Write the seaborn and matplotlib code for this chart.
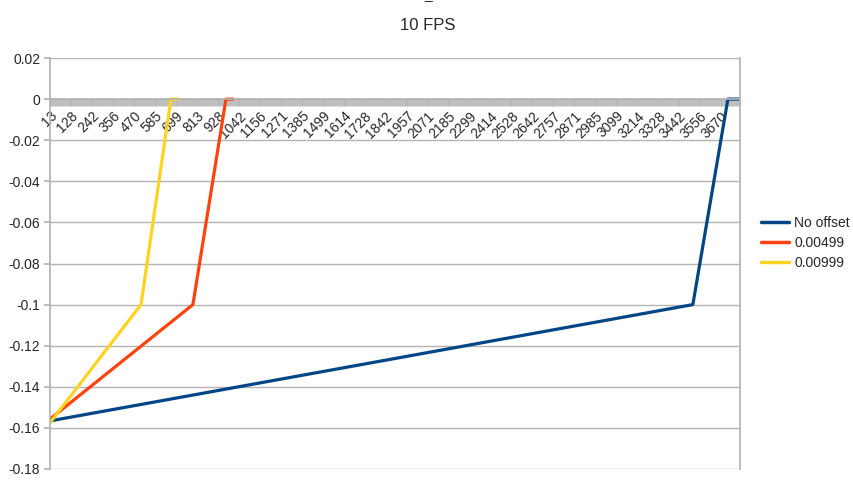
import matplotlib
matplotlib.use("Agg")
import numpy as np
import pandas as pd
import seaborn as sns
import matplotlib.pyplot as plt

sns.set_theme(style="whitegrid")
plt.rcParams['font.family'] = ['Liberation Sans', 'DejaVu Sans']

# category labels shown on the x axis
tick_labels = [13, 128, 242, 356, 470, 585, 699, 813, 928, 1042, 1156, 1271,
               1385, 1499, 1614, 1728, 1842, 1957, 2071, 2185, 2299, 2414,
               2528, 2642, 2757, 2871, 2985, 3099, 3214, 3328, 3442, 3556, 3670]

series_names = ["No offset", "0.00499", "0.00999"]
no_offset_x = [13, 3517, 3708, 3774]
no_offset_y = [-0.1566, -0.1, 0.0, 0.0]
off_00499_x = [13, 792, 972, 1010]
off_00499_y = [-0.1557, -0.1, 0.0, 0.0]
off_00999_x = [13, 509, 672, 711]
off_00999_y = [-0.1575, -0.1, 0.0, 0.0]

df = pd.concat([
    pd.DataFrame({"x": no_offset_x, "y": no_offset_y, "series": series_names[0]}),
    pd.DataFrame({"x": off_00499_x, "y": off_00499_y, "series": series_names[1]}),
    pd.DataFrame({"x": off_00999_x, "y": off_00999_y, "series": series_names[2]}),
], ignore_index=True)

palette = {"No offset": "#004586", "0.00499": "#ff420e", "0.00999": "#ffd320"}

fig = plt.figure(figsize=(8.54, 4.8), dpi=100)
ax = fig.add_axes([50 / 854, 1 - 469 / 480, 690 / 854, 411 / 480])

sns.lineplot(data=df, x="x", y="y", hue="series", palette=palette,
             hue_order=series_names, sort=False, estimator=None,
             linewidth=2.3, ax=ax)

grey = "#b3b3b3"
ax.set_xlim(13, 3774)
ax.set_ylim(-0.18, 0.02)
ax.set_yticks(np.arange(-0.18, 0.021, 0.02))
ax.set_yticklabels(["-0.18", "-0.16", "-0.14", "-0.12", "-0.1", "-0.08",
                    "-0.06", "-0.04", "-0.02", "0", "0.02"], fontsize=10)
ax.grid(axis="x", visible=False)
ax.grid(axis="y", color=grey, linewidth=1)
ax.set_axisbelow(True)

# x axis drawn at y = 0, with dense category ticks
ax.spines["bottom"].set_position(("data", 0))
ax.spines["bottom"].set_color(grey)
ax.spines["top"].set_visible(False)
ax.spines["left"].set_color(grey)
ax.spines["right"].set_color(grey)
ax.set_xticks(tick_labels)
ax.set_xticklabels([str(t) for t in tick_labels], rotation=45, ha="right",
                   rotation_mode="anchor", fontsize=10)
ax.set_xticks(np.arange(13, 3774, 5.4505), minor=True)
ax.tick_params(axis="x", which="both", direction="out", length=5,
               color=grey, width=0.6, bottom=True, pad=2)
ax.tick_params(axis="y", left=True, length=4, color=grey, pad=3)
ax.set_xlabel("")
ax.set_ylabel("")

leg = ax.legend(loc="center left", bbox_to_anchor=(1.012, 0.55), frameon=False,
                fontsize=10, handlelength=2.0, handletextpad=0.4,
                labelspacing=0.45)
for line in leg.get_lines():
    line.set_linewidth(2.5)

fig.text(428 / 854, 1 - 25 / 480, "10 FPS", ha="center", va="center", fontsize=12)
fig.text(428 / 854, 1 + 1 / 480, "_", ha="center", va="baseline", fontsize=10)

plt.savefig("out.png", dpi=100)
